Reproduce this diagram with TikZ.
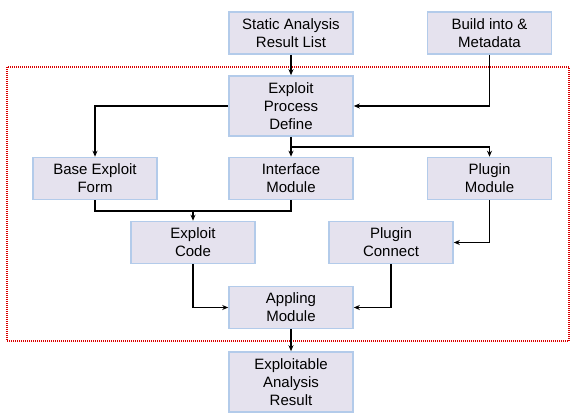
\documentclass[tikz,border=0pt]{standalone}
\usepackage{fontspec}
\setmainfont{Liberation Sans}
\usetikzlibrary{arrows.meta}
\definecolor{boxfill}{HTML}{E5E2EE}
\definecolor{boxline}{HTML}{B3CBEA}
\begin{document}
\begin{tikzpicture}[x=1pt, y=-1pt, font=\fontsize{15}{18}\selectfont]
    \tikzset{blk/.style={draw=boxline, fill=boxfill, line width=1.6pt, align=center,
        minimum width=124pt, inner sep=0pt},
      blk2/.style={blk, minimum height=42pt},
      blk3/.style={blk, minimum height=60pt},
      flow/.style={line width=1.3pt, -{Stealth[length=6pt, width=5pt]}},
      link/.style={line width=1.3pt}}
    \useasboundingbox (0,0) rectangle (573,414);
    % inputs
    \node[blk2] (static) at (291,33) {Static Analysis\\Result List};
    \node[blk2] (build) at (489.5,33) {Build into \&\\Metadata};
    % red dotted frame
    \draw[red!85!black, line width=1.1pt, dash pattern=on 1pt off 1pt] (7,67) rectangle (569,341);
    % inside the frame
    \node[blk3] (define) at (291,106) {Exploit\\Process\\Define};
    \node[blk2] (base) at (95,178.5) {Base Exploit\\Form};
    \node[blk2] (iface) at (291,178.5) {Interface\\Module};
    \node[blk2] (plugmod) at (489.5,178.5) {Plugin\\Module};
    \node[blk2] (code) at (193,242.5) {Exploit\\Code};
    \node[blk2] (connect) at (391,242.5) {Plugin\\Connect};
    \node[blk2] (appling) at (291,307.5) {Appling\\Module};
    % output
    \node[blk3] (result) at (291,382) {Exploitable\\Analysis\\Result};
    % connectors
    \coordinate (split) at (291,147);
    \coordinate (join) at (193,211);
    \draw[flow] (static) -- (define);
    \draw[flow] (build.south) |- (define.east);
    \draw[flow] (define.west) -| (base.north);
    \draw[flow] (define) -- (iface);
    \draw[flow] (split) -| (plugmod.north);
    \draw[link] (base.south) |- (join) -| (iface.south);
    \draw[flow] (join) -- (code.north);
    \draw[flow] (plugmod.south) |- (connect.east);
    \draw[flow] (code.south) |- (appling.west);
    \draw[flow] (connect.south) |- (appling.east);
    \draw[flow] (appling) -- (result);
  \end{tikzpicture}
\end{document}
